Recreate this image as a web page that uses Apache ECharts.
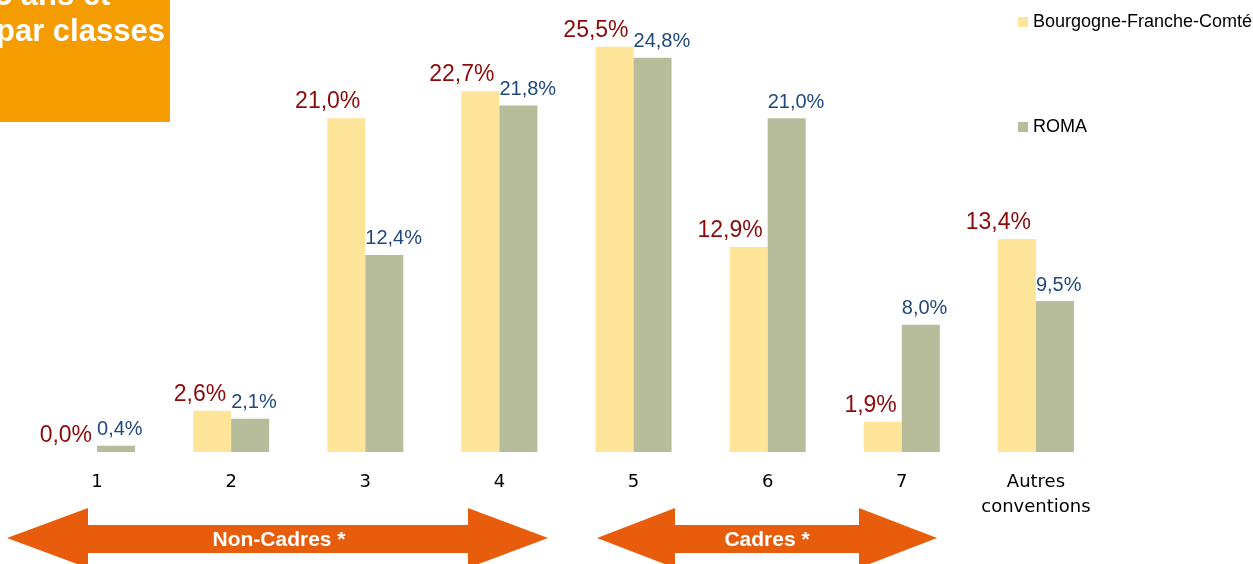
<!DOCTYPE html>
<html><head><meta charset="utf-8">
<script src="https://cdn.jsdelivr.net/npm/echarts@6/dist/echarts.min.js"></script>
<style>html,body{margin:0;padding:0;background:#fff}#c{width:1253px;height:564px}</style>
</head><body><div id="c"></div>
<script>
const categories = ['1','2','3','4','5','6','7','Autres\nconventions'];
const bfcValues = [0.0, 2.6, 21.0, 22.7, 25.5, 12.9, 1.9, 13.4];
const romaValues = [0.4, 2.1, 12.4, 21.8, 24.8, 21.0, 8.0, 9.5];
const seriesNames = ['Bourgogne-Franche-Comté', 'ROMA'];
const fmt = p => p.value.toFixed(1).replace('.', ',') + '%';

const chart = echarts.init(document.getElementById('c'));
const arrowColor = '#E85D0C';
function arrow(x1, hb1, hb2, x2) {
  return {type:'polygon', shape:{points:[[x1,538],[hb1,508],[hb1,525],[hb2,525],[hb2,508],[x2,538],[hb2,568],[hb2,553],[hb1,553],[hb1,568]]}, style:{fill:arrowColor}, z:10};
}
chart.setOption({
  animation:false,
  grid:{left:30, right:150, top:7, bottom:112},
  legend:{orient:'vertical', left:1013, top:8, itemWidth:10, itemHeight:10, itemGap:87,
    icon:'rect', textStyle:{fontFamily:'Liberation Sans', fontSize:18, color:'#000'}, data:seriesNames},
  xAxis:{type:'category', data:categories, axisLine:{show:false}, axisTick:{show:false},
    axisLabel:{fontFamily:'DejaVu Sans', fontSize:18, color:'#000', margin:18, lineHeight:25, interval:0}},
  yAxis:{type:'value', min:0, max:28, show:false, splitLine:{show:false}},
  series:[
    {name:seriesNames[0], type:'bar', data:bfcValues, barWidth:38, barGap:'0%',
      itemStyle:{color:'#FFE599'},
      label:{show:true, position:['100%',0], align:'right', verticalAlign:'bottom', offset:[-5,-5],
        formatter:fmt, fontFamily:'Liberation Sans', fontSize:23, color:'#8B0A0A'}},
    {name:seriesNames[1], type:'bar', data:romaValues, barWidth:38,
      itemStyle:{color:'#B7BC9A'},
      label:{show:true, position:[0,0], align:'left', verticalAlign:'bottom', offset:[0,-6],
        formatter:fmt, fontFamily:'Liberation Sans', fontSize:20, color:'#1F497D'}}
  ],
  graphic:[
    {type:'rect', shape:{x:0,y:0,width:170,height:122}, style:{fill:'#F59C00'}, z:10},
    {type:'text', x:-5, y:-19, style:{text:'5 ans et', fill:'#fff', font:'bold 31px "Liberation Sans"'}, z:11},
    {type:'text', x:-4, y:17, style:{text:'par classes', fill:'#fff', font:'bold 31px "Liberation Sans"'}, z:11},
    arrow(7, 88, 468, 548),
    arrow(597, 675, 859, 937),
    {type:'text', x:279, y:540, style:{text:'Non-Cadres *', fill:'#fff', font:'bold 21px "Liberation Sans"', align:'center', verticalAlign:'middle'}, z:11},
    {type:'text', x:767, y:540, style:{text:'Cadres *', fill:'#fff', font:'bold 21px "Liberation Sans"', align:'center', verticalAlign:'middle'}, z:11}
  ]
});
</script></body></html>
